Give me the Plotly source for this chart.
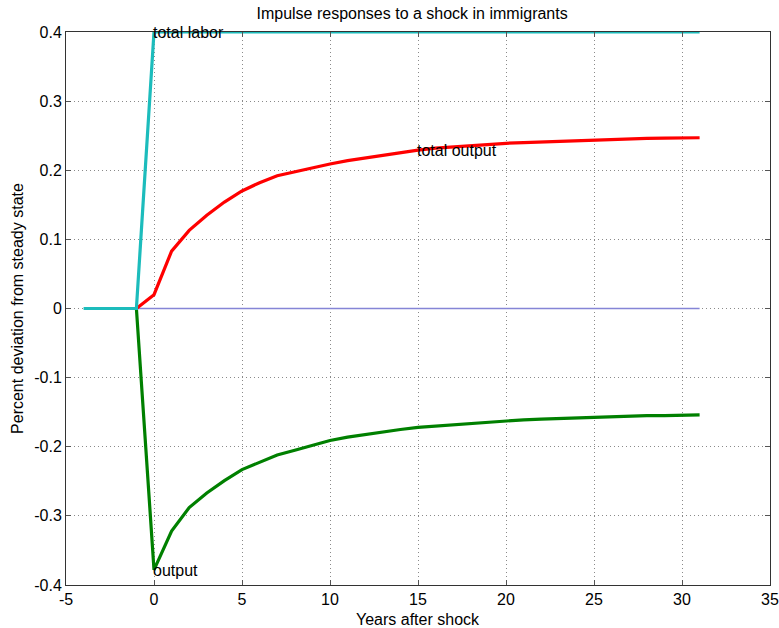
import plotly.graph_objects as go

years = list(range(-4, 32))

total_output = [0, 0, 0, 0,
                0.020, 0.083, 0.113, 0.135, 0.154, 0.170, 0.182, 0.192, 0.198, 0.204,
                0.209, 0.214, 0.218, 0.222, 0.226, 0.229, 0.232, 0.234, 0.236, 0.238,
                0.239, 0.240, 0.241, 0.242, 0.243, 0.244, 0.2445, 0.245, 0.246, 0.2465,
                0.247, 0.247]
output = [0, 0, 0, 0,
          -0.378, -0.322, -0.288, -0.267, -0.249, -0.233, -0.222, -0.212, -0.205, -0.198,
          -0.191, -0.186, -0.182, -0.178, -0.175, -0.172, -0.170, -0.168, -0.166, -0.164,
          -0.162, -0.161, -0.160, -0.159, -0.158, -0.157, -0.1565, -0.156, -0.155, -0.155,
          -0.154, -0.154]
total_labor = [0, 0, 0, 0] + [0.4] * 32
zero_line = [0] * 36

x_ticks = [-5, 0, 5, 10, 15, 20, 25, 30, 35]
x_tick_labels = ["-5", "0", "5", "10", "15", "20", "25", "30", "35"]
y_ticks = [-0.4, -0.3, -0.2, -0.1, 0, 0.1, 0.2, 0.3, 0.4]
y_tick_labels = ["-0.4", "-0.3", "-0.2", "-0.1", "0", "0.1", "0.2", "0.3", "0.4"]

labels = [("total labor", 0, 0.4), ("total output", 15, 0.229), ("output", 0, -0.379)]

FONT = "Liberation Sans, Arial, sans-serif"
FS = 16

fig = go.Figure()
fig.add_trace(go.Scatter(x=years[3:], y=zero_line[3:], mode="lines",
                         line=dict(color="#8585d6", width=1.5), showlegend=False))
fig.add_trace(go.Scatter(x=years[3:], y=total_output[3:], mode="lines",
                         line=dict(color="#ff0000", width=3.2), showlegend=False))
fig.add_trace(go.Scatter(x=years[3:], y=output[3:], mode="lines",
                         line=dict(color="#008000", width=3.2), showlegend=False))
fig.add_trace(go.Scatter(x=years, y=total_labor, mode="lines",
                         line=dict(color="#1cbcbc", width=3.2), showlegend=False))

for txt, xv, yv in labels:
    fig.add_annotation(x=xv, y=yv, text=txt, showarrow=False, xanchor="left",
                       yanchor="middle", xshift=-3,
                       font=dict(family=FONT, size=FS, color="#000000"))

# axis titles placed as paper-anchored texts
fig.add_annotation(x=0.5, y=-0.063, xref="paper", yref="paper", text="Years after shock",
                   showarrow=False, xanchor="center", yanchor="middle",
                   font=dict(family=FONT, size=FS, color="#000000"))
fig.add_annotation(x=-0.069, y=0.5, xref="paper", yref="paper",
                   text="Percent deviation from steady state", textangle=-90,
                   showarrow=False, xanchor="center", yanchor="middle",
                   font=dict(family=FONT, size=FS, color="#000000"))

axis_common = dict(showline=True, linecolor="#333333", linewidth=1, mirror="ticks",
                   ticks="inside", ticklen=5, tickcolor="#555555",
                   showgrid=True, gridcolor="#8a8a8a", griddash="1px,3px", gridwidth=1,
                   zeroline=False, automargin=False, ticklabeloverflow="allow",
                   tickfont=dict(family=FONT, size=FS, color="#000000"))

fig.update_xaxes(range=[-5, 35], tickvals=x_ticks, ticktext=x_tick_labels, **axis_common)
fig.update_yaxes(range=[-0.4, 0.4], tickvals=y_ticks, ticktext=y_tick_labels, **axis_common)

fig.update_layout(
    width=779, height=628,
    margin=dict(l=66, r=9, t=32, b=43),
    paper_bgcolor="white", plot_bgcolor="white",
    title=dict(text="Impulse responses to a shock in immigrants", x=0.529, xanchor="center",
               y=0.979, yanchor="middle",
               font=dict(family=FONT, size=FS, color="#000000")),
)

fig.write_html("out.html", config={"displayModeBar": False},
               post_script="document.body.style.margin='0px';")
